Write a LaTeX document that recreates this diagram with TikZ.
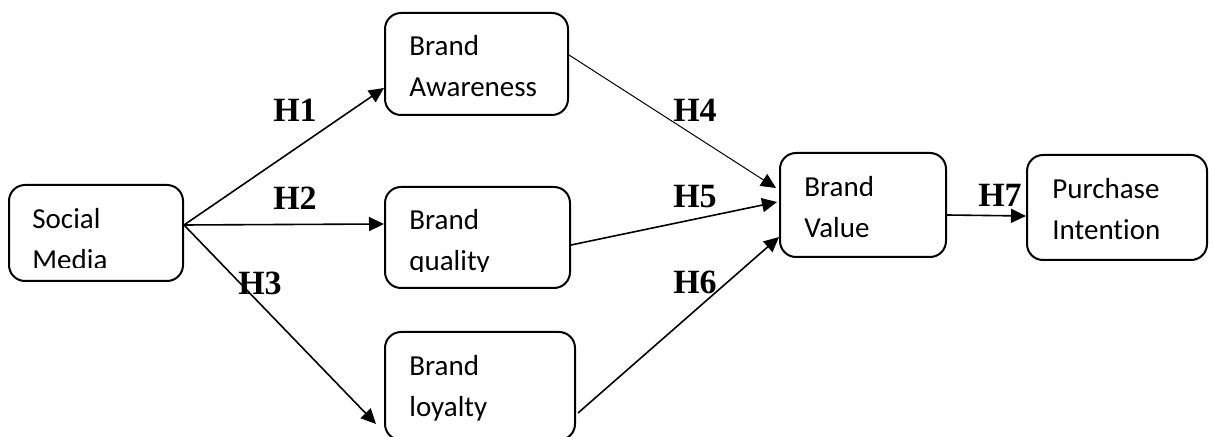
\documentclass[tikz,border=0pt]{standalone}
\usepackage{fontspec}
\setmainfont{Liberation Serif}
\newfontfamily\boxfont[Ligatures=NoCommon]{Carlito}
\usetikzlibrary{arrows.meta}
\tikzset{
    box/.style={rectangle, rounded corners=8pt, draw=black, line width=1pt},
    boxtext/.style={anchor=west, inner sep=0pt, align=left, font=\fontsize{14.5}{20.5}\selectfont\boxfont},
    hyp/.style={inner sep=0pt, font=\fontsize{17}{20}\selectfont\bfseries},
    arr/.style={-{Triangle[length=7.5pt, width=7pt]}, line width=0.8pt},
    arrthin/.style={-{Triangle[length=7.5pt, width=7pt]}, line width=0.5pt}
}
\begin{document}
\begin{tikzpicture}[x=0.5pt, y=-0.5pt]
    \useasboundingbox (0,0) rectangle (1213,437);
    % boxes
    \node[box, minimum width=87pt, minimum height=48pt] (sm) at (96,233) {};
    \node[box, minimum width=91.5pt, minimum height=51pt] (ba) at (476.5,64) {};
    \node[box, minimum width=92.5pt, minimum height=50.5pt] (bq) at (477.5,237.5) {};
    \node[box, minimum width=95pt, minimum height=54pt] (bl) at (480,386) {};
    \node[box, minimum width=83pt, minimum height=52pt] (bv) at (863,205) {};
    \node[box, minimum width=90pt, minimum height=52.5pt] (pi) at (1117,207.5) {};
    % box texts
    \begin{scope}
        \clip (0,0) rectangle (1213,268);
        \node[boxtext] (smtxt) at ([xshift=12pt, yshift=-3pt]sm.west) {Social\\Media};
    \end{scope}
    \begin{scope}
        \clip (0,0) rectangle (1213,272);
        \node[boxtext] (bqtxt) at ([xshift=12.5pt, yshift=-2.5pt]bq.west) {Brand\\quality};
    \end{scope}
    \node[boxtext] (batxt) at ([xshift=12.5pt, yshift=-1pt]ba.west) {Brand\\Awareness};
    \node[boxtext] (bltxt) at ([xshift=12.5pt, yshift=-1pt]bl.west) {Brand\\loyalty};
    \node[boxtext] (bvtxt) at ([xshift=12.5pt, yshift=-1pt]bv.west) {Brand\\Value};
    \node[boxtext] (pitxt) at ([xshift=13pt, yshift=-1pt]pi.west) {Purchase\\Intention};
    % connectors
    \draw[arr] ([yshift=4pt]sm.east) -- ([yshift=-12pt]ba.west);
    \draw[arr] ([yshift=4pt]sm.east) -- ([yshift=6.75pt]bq.west);
    \draw[arr] ([yshift=4pt]sm.east) -- ([xshift=-4pt, yshift=-19pt]bl.west);
    \draw[arrthin] ([yshift=4.5pt]ba.east) -- ([xshift=-1.5pt, yshift=8.5pt]bv.west);
    \draw[arr] ([yshift=-3.75pt]bq.east) -- ([xshift=-1pt, yshift=1.5pt]bv.west);
    \draw[arr] ([xshift=1pt, yshift=-13.5pt]bl.east) -- ([yshift=-16pt]bv.west);
    \draw[arr] ([yshift=-5pt]bv.east) -- ([yshift=-4.25pt]pi.west);
    % hypotheses
    \node[hyp] (h1) at (295,110) {H1};
    \node[hyp] (h2) at (295,198) {H2};
    \node[hyp] (h3) at (260,283) {H3};
    \node[hyp] (h4) at (695,110) {H4};
    \node[hyp] (h5) at (695,197) {H5};
    \node[hyp] (h6) at (695,282) {H6};
    \node[hyp] (h7) at (1000,195) {H7};
\end{tikzpicture}
\end{document}
